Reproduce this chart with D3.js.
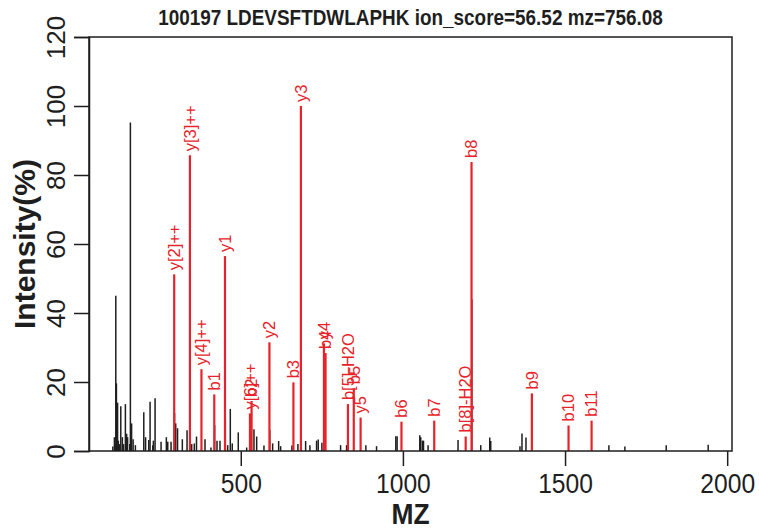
<!DOCTYPE html>
<html>
<head>
<meta charset="utf-8">
<script src="https://cdn.jsdelivr.net/npm/d3@7/dist/d3.min.js"></script>
<style>
html,body{margin:0;padding:0;background:#fff;}
svg{display:block;}
text{font-family:"Liberation Sans",Arial,Helvetica,sans-serif;}
</style>
</head>
<body>
<svg id="chart" width="759" height="529"></svg>
<script>
// ---- data ----
const titleText = "100197 LDEVSFTDWLAPHK ion_score=56.52 mz=756.08";
const xLabel = "MZ";
const yLabel = "Intensity(%)";
const xTicks = [500, 1000, 1500, 2000];
const yTicks = [0, 20, 40, 60, 80, 100, 120];

// unmatched peaks (m/z, intensity %)
const peakMz = [105.4,110.3,113.1,114.6,116.5,118.0,120.1,122.5,126.5,130.0,134.9,138.5,144.2,148.0,151.0,157.7,159.6,163.3,168.0,175.0,
  200.9,206.5,216.3,220.3,228.7,230.5,235.7,254.2,270.5,274.8,285.0,295.7,299.4,305.0,319.8,334.3,343.7,348.7,356.7,363.5,
  389.7,408.0,419.3,426.7,435.9,452.3,459.6,467.7,473.8,492.3,518.2,540.7,549.0,571.5,589.4,598.3,616.8,622.9,657.7,676.2,
  686.4,700.0,713.2,733.8,738.8,750.2,807.8,826.3,885.7,918.7,978.1,982.1,1052.0,1055.0,1060.4,1063.5,1077.6,1170.0,1212.6,1240.0,
  1267.7,1270.8,1361.0,1367.2,1379.5,1398.7,1635.2,1684.5,1812.0,1941.4];
const peakInt = [1.3,4,2,45,19.6,6,14,3,2,13,4,2,13.6,5,4,2,95.2,8,3.4,1.7,
  11.2,4,3.2,14.3,1.7,3,15.3,2.7,4,2.7,2.7,11,8,6.6,3.4,6,17.7,2,2.2,4.2,
  3.4,1,7.5,3,3,9,1.7,12.2,2.2,5.4,1,6.3,4.2,1.6,6,2.2,2.9,1.4,1.6,2,
  23.5,2.9,1.7,3,3.3,2.4,1.7,1.7,1.7,1.4,4.3,4.3,4.6,4,3,3,1.7,3.2,44,1.7,
  3.9,2.9,1.4,5.1,3.9,12,1.7,1.3,1.7,1.8];

// matched fragment ions
const ionLabel = ["y[2]++","y[3]++","y[4]++","b1","y1","y[6]++","b2","y2","b3","y3","y4","b4","b[5]-H2O","b5","y5","b6","b7","b[8]-H2O","b8","b9","b10","b11"];
const ionMz = [294.69,343.22,378.74,418.30,451.32,528.32,533.32,588.38,662.37,685.43,756.47,761.43,830.46,848.47,869.55,995.54,1096.58,1193.60,1211.61,1397.69,1510.77,1581.81];
const ionInt = [51.2,85.7,23.7,16.4,56.5,10.9,14.5,31.5,19.9,100,31.2,28.4,13.6,18.2,9.7,8.5,8.8,4.2,83.8,16.7,7.4,8.8];

// ---- layout ----
const svg = d3.select("#chart");
const L = 89, R = 732, T = 37, B = 451;
const RED = "#e6232a";
const INK = "#1e1e1e";
const SX = 0.88; // horizontal condensing of upright text

const allMz = peakMz.concat(ionMz);
const ext = d3.extent(allMz);
const pad = (ext[1] - ext[0]) * 0.04;
const x = d3.scaleLinear().domain([ext[0] - pad, ext[1] + pad]).range([L, R]);
const y = d3.scaleLinear().domain([0, 120]).range([B, T]);

// unmatched peaks
svg.append("g").selectAll("line").data(d3.range(peakMz.length)).join("line")
  .attr("x1", i => x(peakMz[i])).attr("x2", i => x(peakMz[i]))
  .attr("y1", y(0)).attr("y2", i => y(peakInt[i]))
  .attr("stroke", INK).attr("stroke-width", 1.5);

// matched peaks
svg.append("g").selectAll("line").data(d3.range(ionMz.length)).join("line")
  .attr("x1", i => x(ionMz[i])).attr("x2", i => x(ionMz[i]))
  .attr("y1", y(0)).attr("y2", i => y(ionInt[i]))
  .attr("stroke", RED).attr("stroke-width", 2.2);

// ion labels
svg.append("g").selectAll("text").data(d3.range(ionMz.length)).join("text")
  .attr("transform", i => `translate(${x(ionMz[i])},${y(ionInt[i]) - 4}) rotate(-90)`)
  .attr("dy", "0.35em")
  .attr("text-anchor", "start")
  .attr("font-size", 16.5)
  .attr("fill", RED)
  .text(i => ionLabel[i]);

// box
svg.append("rect").attr("x", L).attr("y", T).attr("width", R - L).attr("height", B - T)
  .attr("fill", "none").attr("stroke", INK).attr("stroke-width", 1.5);

// x axis
const xAxis = d3.axisBottom(x).tickValues(xTicks).tickSize(15).tickPadding(7).tickFormat(d3.format("d"));
const gx = svg.append("g").attr("transform", `translate(0,${B})`).call(xAxis);
gx.select(".domain").remove();
gx.selectAll(".tick line").attr("stroke", INK).attr("stroke-width", 1.5);
gx.selectAll(".tick text").attr("font-size", 28).attr("fill", INK)
  .attr("transform", `scale(${SX},1)`)
  .attr("font-family", "'Liberation Sans',Arial,sans-serif");

// y axis
const yAxis = d3.axisLeft(y).tickValues(yTicks).tickSize(15).tickPadding(0).tickFormat(d3.format("d"));
const gy = svg.append("g").attr("transform", `translate(${L},0)`).call(yAxis);
gy.select(".domain").attr("stroke", INK).attr("stroke-width", 1.5);
gy.selectAll(".tick line").attr("stroke", INK).attr("stroke-width", 1.5);
gy.selectAll(".tick text")
  .attr("x", null).attr("dy", null)
  .attr("text-anchor", "middle")
  .attr("transform", "translate(-24,0) rotate(-90)")
  .attr("font-size", 26).attr("fill", INK)
  .attr("font-family", "'Liberation Sans',Arial,sans-serif");

// title
svg.append("text").attr("transform", `translate(${(L + R) / 2},25) scale(${SX},1)`)
  .attr("text-anchor", "middle").attr("font-weight", "bold").attr("font-size", 21.5)
  .attr("fill", INK).text(titleText);

// axis titles
svg.append("text").attr("transform", `translate(${(L + R) / 2},524) scale(${SX},1)`)
  .attr("text-anchor", "middle").attr("font-weight", "bold").attr("font-size", 30)
  .attr("fill", INK).text(xLabel);
svg.append("text").attr("transform", `translate(35,${(T + B) / 2}) rotate(-90)`)
  .attr("text-anchor", "middle").attr("font-weight", "bold").attr("font-size", 30)
  .attr("fill", INK).text(yLabel);
</script>
</body>
</html>
